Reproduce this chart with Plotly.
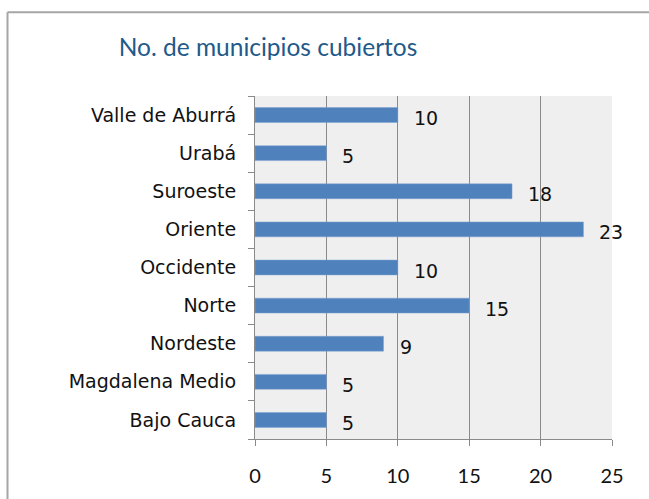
import plotly.graph_objects as go

categories = ["Bajo Cauca", "Magdalena Medio", "Nordeste", "Norte", "Occidente",
              "Oriente", "Suroeste", "Urabá", "Valle de Aburrá"]
values = [5, 5, 9, 15, 10, 23, 18, 5, 10]
x_ticks = [0, 5, 10, 15, 20, 25]
title_text = "No. de municipios cubiertos"

LABEL_FONT = "DejaVu Sans"

W, H = 649, 499
L, R, T, B = 255, 612, 96, 446

fig = go.Figure()
fig.add_trace(go.Bar(
    y=categories, x=values, orientation="h",
    marker=dict(color="#4F81BD", line=dict(color="#7FA3D0", width=0.5)),
    width=0.39, hoverinfo="skip",
))

for c, v in zip(categories, values):
    fig.add_annotation(x=v, y=c, text=str(v), showarrow=False,
                       xanchor="left", yanchor="middle", xshift=14, yshift=-3,
                       font=dict(family=LABEL_FONT, size=19, color="#111111"))

fig.update_layout(
    width=W, height=H,
    margin=dict(l=L, r=W - R, t=T, b=H - B),
    paper_bgcolor="white", plot_bgcolor="#EFEFEF",
    showlegend=False,
    title=dict(text=title_text, x=268/W, xref="container", xanchor="center",
               y=1-47/H, yref="container", yanchor="middle",
               font=dict(family="Lato", size=24.5, color="#1F5A8A")),
)
fig.update_xaxes(range=[0, 25], tickvals=x_ticks, ticktext=[str(t) for t in x_ticks],
                 showgrid=True, gridcolor="#8A8A8A", gridwidth=1.2,
                 showline=True, linecolor="#8A8A8A", linewidth=1,
                 ticks="outside", ticklen=6, tickcolor="#8A8A8A",
                 tickfont=dict(family="Lato", size=20, color="#111111"),
                 ticklabelstandoff=13, zeroline=False, fixedrange=True)
fig.update_yaxes(categoryorder="array", categoryarray=categories,
                 showline=True, linecolor="#8A8A8A", linewidth=1,
                 ticks="outside", ticklen=6, tickcolor="#8A8A8A", tickson="boundaries",
                 showgrid=False,
                 tickfont=dict(family=LABEL_FONT, size=19, color="#111111"),
                 ticklabelstandoff=14, fixedrange=True)

pw, ph = R - L, B - T
def px(x):
    return (x - L) / pw
def py(y):
    return (B - y) / ph

# outer chart border (left and top edges visible)
fig.add_shape(type="line", xref="paper", yref="paper",
              x0=px(7.5), x1=px(W + 10), y0=py(10.5), y1=py(10.5),
              line=dict(color="#A6A6A6", width=2))
fig.add_shape(type="line", xref="paper", yref="paper",
              x0=px(7.5), x1=px(7.5), y0=py(10.5), y1=py(H + 10),
              line=dict(color="#A6A6A6", width=2))

fig.write_html("out.html", config={"displayModeBar": False},
               post_script="document.body.style.margin='0';document.body.style.overflow='hidden';")
